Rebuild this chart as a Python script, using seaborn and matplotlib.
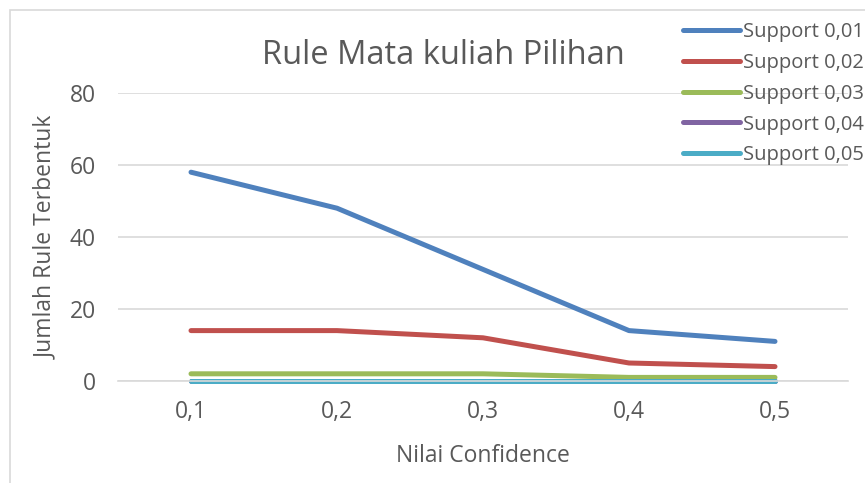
import matplotlib
matplotlib.use("Agg")
import matplotlib.pyplot as plt
import seaborn as sns
import pandas as pd
from matplotlib.patches import Rectangle
from matplotlib.lines import Line2D

confidence = ["0,1", "0,2", "0,3", "0,4", "0,5"]
support_001 = [58, 48, 31, 14, 11]
support_002 = [14, 14, 12, 5, 4]
support_003 = [2, 2, 2, 1, 1]
support_004 = [0, 0, 0, 0, 0]
support_005 = [0, 0, 0, 0, 0]
series_names = ["Support 0,01", "Support 0,02", "Support 0,03", "Support 0,04", "Support 0,05"]
colors = ["#4F81BD", "#C0504D", "#9BBB59", "#8064A2", "#4BACC6"]

rows = []
for name, vals in zip(series_names, [support_001, support_002, support_003, support_004, support_005]):
    for i, (c, v) in enumerate(zip(confidence, vals)):
        rows.append({"Confidence": c, "pos": i, "Rules": v, "Series": name})
df = pd.DataFrame(rows)

sns.set_style("white")
plt.rcParams["font.family"] = ["Open Sans", "DejaVu Sans"]
text_color = "#595959"
fs = 16.5
lfs = 14.5

W, H = 865, 483
fig = plt.figure(figsize=(W / 100, H / 100), dpi=100)
ax = fig.add_axes([118 / W, (H - 381) / H, (848 - 118) / W, (381 - 93) / H])

sns.lineplot(data=df, x="pos", y="Rules", hue="Series", palette=colors,
             hue_order=series_names, linewidth=3.6, ax=ax, legend=False,
             solid_capstyle="round", clip_on=False, sort=False)

ax.set_xlim(-0.5, 4.5)
ax.set_ylim(0, 80)
ax.set_yticks([0, 20, 40, 60, 80])
ax.set_xticks(range(len(confidence)))
ax.set_xticklabels(confidence)
ax.grid(axis="y", color="#D9D9D9", linewidth=1.2)
ax.set_axisbelow(True)
for s in ["top", "right", "left"]:
    ax.spines[s].set_visible(False)
ax.spines["bottom"].set_color("#D9D9D9")
ax.spines["bottom"].set_linewidth(1.2)
ax.tick_params(axis="both", length=0, labelsize=fs, colors=text_color)
ax.tick_params(axis="y", pad=16)
ax.tick_params(axis="x", pad=14)
ax.set_xlabel("Nilai Confidence", fontsize=fs, color=text_color, labelpad=14)
ax.set_ylabel("Jumlah Rule Terbentuk", fontsize=fs, color=text_color, labelpad=8)

fig.text(443 / W, 1 - 55 / H, "Rule Mata kuliah Pilihan", ha="center", va="center",
         fontsize=23.5, color=text_color)

handles = [Line2D([0], [0], color=c, linewidth=3.6, solid_capstyle="round") for c in colors]
fig.legend(handles, series_names, loc="upper left", bbox_to_anchor=(683 / W, 1 - 22.5 / H),
           frameon=False, fontsize=lfs, labelcolor=text_color, handlelength=2.85,
           handletextpad=0.15, labelspacing=0.53, borderpad=0, borderaxespad=0)

fig.patches.append(Rectangle((10 / W, -0.1), 1.2, (H - 10) / H + 0.1, transform=fig.transFigure,
                             fill=False, edgecolor="#D9D9D9", linewidth=1.2))

fig.savefig("out.png", dpi=100, facecolor="white")
